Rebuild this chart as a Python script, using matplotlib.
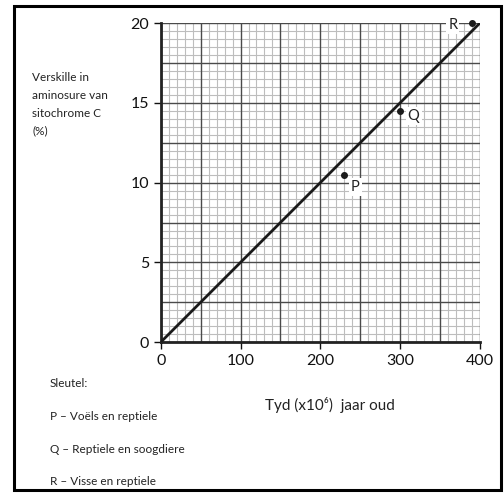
import matplotlib
matplotlib.use("Agg")
import matplotlib.pyplot as plt
import numpy as np
from matplotlib.patches import Rectangle

plt.rcParams['font.family'] = ['Lato', 'DejaVu Sans']

# data
line_x = [0, 400]
line_y = [0, 20]
point_labels = ["P", "Q", "R"]
point_x = [230, 300, 390]
point_y = [10.5, 14.5, 20]
x_ticks = [0, 100, 200, 300, 400]
y_ticks = [0, 5, 10, 15, 20]
key_lines = ["Sleutel:", "P \u2013 Vo\u00ebls en reptiele",
             "Q \u2013 Reptiele en soogdiere", "R \u2013 Visse en reptiele"]
ylabel_lines = ["Verskille in", "aminosure van", "sitochrome C", "(%)"]
xlabel_text = "Tyd (x10\u2076)  jaar oud"

fig = plt.figure(figsize=(5.04, 4.93), dpi=100)
ax = fig.add_axes([0.319, 0.306, 0.633, 0.647])

# graph paper grid
for x in np.arange(0, 401, 10):
    major = x % 50 == 0
    ax.axvline(x, color="#4a4a4a" if major else "#bdbdbd",
               lw=1.0 if major else 0.8, zorder=1 if major else 0)
for y in np.arange(0, 20.01, 0.5):
    major = abs(y / 2.5 - round(y / 2.5)) < 1e-6
    ax.axhline(y, color="#4a4a4a" if major else "#bdbdbd",
               lw=1.0 if major else 0.8, zorder=1 if major else 0)

ax.plot(line_x, line_y, color="#1a1a1a", lw=2.0, zorder=3)
ax.plot(point_x, point_y, "o", color="#1a1a1a", ms=4, zorder=4, clip_on=False)

offsets = {"P": (14, -0.8), "Q": (17, -0.3), "R": (-24, -0.1)}
for lab, px, py in zip(point_labels, point_x, point_y):
    dx, dy = offsets[lab]
    ax.text(px + dx, py + dy, lab, fontsize=10.5, ha="center", va="center",
            color="#222222", zorder=5,
            bbox=dict(facecolor="white", edgecolor="none", pad=1.5))

ax.set_xlim(0, 400)
ax.set_ylim(0, 20)
ax.set_xticks(x_ticks)
ax.set_yticks(y_ticks)
ax.tick_params(direction="out", length=5, width=1, labelsize=11.5, colors="#111111")
for side in ["top", "right"]:
    ax.spines[side].set_visible(False)
for side in ["left", "bottom"]:
    ax.spines[side].set_linewidth(2)
    ax.spines[side].set_color("#222222")

for i, txt in enumerate(ylabel_lines):
    fig.text(0.064, 0.842 - i * 0.036, txt, fontsize=8.5, va="center", ha="left",
             color="#222222")
fig.text(0.655, 0.178, xlabel_text, fontsize=11, ha="center", va="center",
         color="#222222")

key_y = [0.223, 0.156, 0.089, 0.024]
for txt, yy in zip(key_lines, key_y):
    fig.text(0.099, yy, txt, fontsize=8.5, ha="left", va="center", color="#222222")

fig.patches.append(Rectangle((0.027, 0.006), 0.967, 0.982, transform=fig.transFigure,
                             fill=False, edgecolor="black", lw=2.2))

fig.savefig("out.png", dpi=100, facecolor="white")
